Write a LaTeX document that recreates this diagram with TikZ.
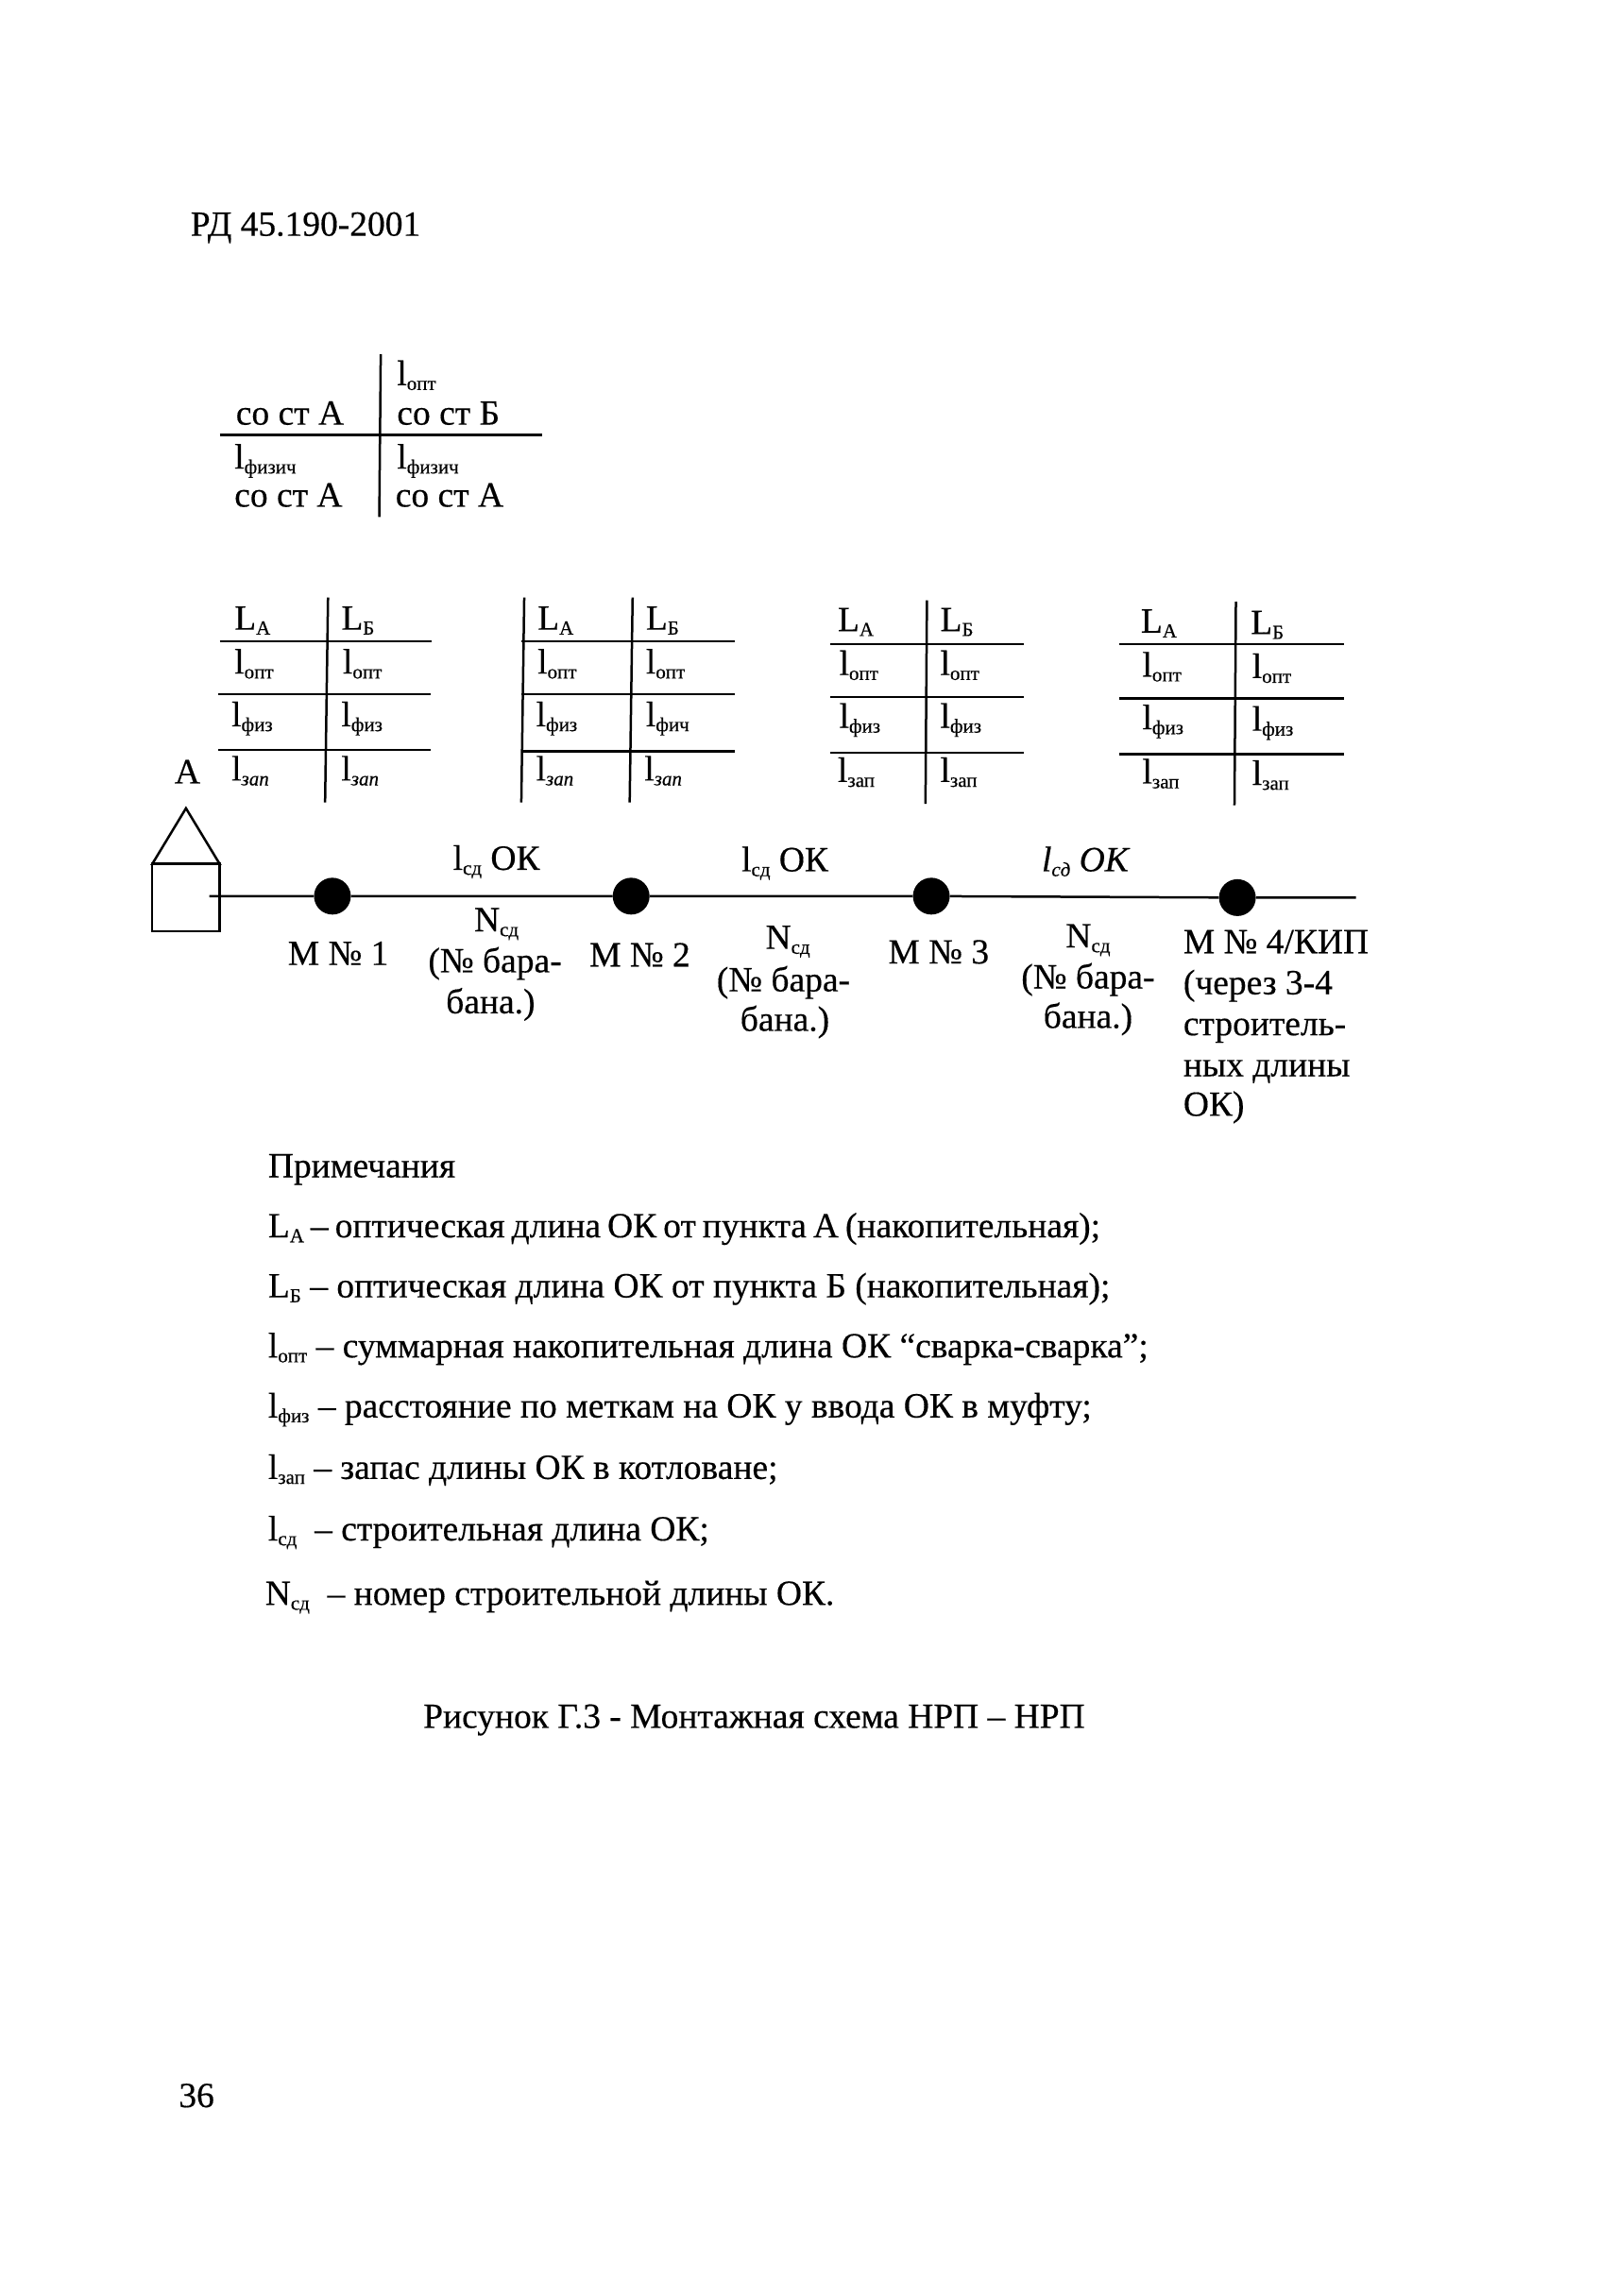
\documentclass[tikz,border=0pt]{standalone}
\usepackage{fontspec}
\setmainfont{Liberation Serif}[FakeBold=0.35]
\newcommand{\subsize}{\fontsize{21}{21}\selectfont}
\newcommand{\lsub}[2]{#1\raisebox{-0.3ex}{\subsize #2}}
\newcommand{\lsubit}[2]{#1\raisebox{-0.3ex}{\subsize\itshape #2}}
\tikzset{
  txt/.style={anchor=base west,inner sep=0pt,font=\fontsize{37.5}{40}\selectfont},
  mid/.style={anchor=base,inner sep=0pt,font=\fontsize{37.5}{40}\selectfont},
  rulethin/.style={line width=2.5pt},
  mdot/.style={circle,fill=black,inner sep=0pt,minimum size=39pt}
}
\begin{document}
\begin{tikzpicture}[x=1.5507pt,y=-1.5507pt]
        \useasboundingbox (0,0) rectangle (1104,1568);
        \node[txt] (head) at (130,161) {РД 45.190-2001};
        % legend table
        \node[txt] (kopt) at (271,263) {\lsub{l}{опт}};
        \node[txt] (ka) at (161,290) {со ст А};
        \node[txt] (kb) at (271,290) {со ст Б};
        \node[txt] (kfa) at (160,320) {\lsub{l}{физич}};
        \node[txt] (kfb) at (271,320) {\lsub{l}{физич}};
        \node[txt] (kc) at (160,346) {со ст А};
        \node[txt] (kd) at (270,346) {со ст А};
        \draw[rulethin] (260,242) -- (259,353);
        \draw[rulethin] (150,297) -- (370,297);
        % table 1
        \node[txt] (a1la) at (160,430) {\lsub{L}{А}};
        \node[txt] (a1lb) at (233,430) {\lsub{L}{Б}};
        \node[txt] (a1oa) at (160,460) {\lsub{l}{опт}};
        \node[txt] (a1ob) at (234,460) {\lsub{l}{опт}};
        \node[txt] (a1fa) at (158,496) {\lsub{l}{физ}};
        \node[txt] (a1fb) at (233,496) {\lsub{l}{физ}};
        \node[txt] (a1za) at (158,533) {\lsubit{l}{зап}};
        \node[txt] (a1zb) at (233,533) {\lsubit{l}{зап}};
        \draw[rulethin] (224,408) -- (222,548);
        \draw[rulethin] (150,438) -- (295,438);
        \draw[rulethin] (149,474) -- (294,474);
        \draw[rulethin] (149,512) -- (294,512);
        % table 2
        \node[txt] (a2la) at (367,430) {\lsub{L}{А}};
        \node[txt] (a2lb) at (441,430) {\lsub{L}{Б}};
        \node[txt] (a2oa) at (367,460) {\lsub{l}{опт}};
        \node[txt] (a2ob) at (441,460) {\lsub{l}{опт}};
        \node[txt] (a2fa) at (366,496) {\lsub{l}{физ}};
        \node[txt] (a2fb) at (441,496) {\lsub{l}{фич}};
        \node[txt] (a2za) at (366,533) {\lsubit{l}{зап}};
        \node[txt] (a2zb) at (440,533) {\lsubit{l}{зап}};
        \draw[rulethin] (358,408) -- (356,548);
        \draw[rulethin] (432,408) -- (430,548);
        \draw[rulethin] (356,438) -- (502,438);
        \draw[rulethin] (356,474) -- (502,474);
        \draw[rulethin] (356,513) -- (502,513);
        % table 3
        \node[txt] (a3la) at (572,431) {\lsub{L}{А}};
        \node[txt] (a3lb) at (642,431) {\lsub{L}{Б}};
        \node[txt] (a3oa) at (573,461) {\lsub{l}{опт}};
        \node[txt] (a3ob) at (642,461) {\lsub{l}{опт}};
        \node[txt] (a3fa) at (573,497) {\lsub{l}{физ}};
        \node[txt] (a3fb) at (642,497) {\lsub{l}{физ}};
        \node[txt] (a3za) at (572,534) {\lsub{l}{зап}};
        \node[txt] (a3zb) at (642,534) {\lsub{l}{зап}};
        \draw[rulethin] (633,410) -- (632,549);
        \draw[rulethin] (567,440) -- (699,440);
        \draw[rulethin] (567,476) -- (699,476);
        \draw[rulethin] (567,514) -- (699,514);
        % table 4
        \node[txt] (a4la) at (779,432) {\lsub{L}{А}};
        \node[txt] (a4lb) at (854,433) {\lsub{L}{Б}};
        \node[txt] (a4oa) at (780,462) {\lsub{l}{опт}};
        \node[txt] (a4ob) at (855,463) {\lsub{l}{опт}};
        \node[txt] (a4fa) at (780,498) {\lsub{l}{физ}};
        \node[txt] (a4fb) at (855,499) {\lsub{l}{физ}};
        \node[txt] (a4za) at (780,535) {\lsub{l}{зап}};
        \node[txt] (a4zb) at (855,536) {\lsub{l}{зап}};
        \draw[rulethin] (844,411) -- (843,550);
        \draw[rulethin] (764,440) -- (918,440);
        \draw[rulethin] (764,477) -- (918,477);
        \draw[rulethin] (764,515) -- (918,515);
        % station A
        \node[mid] (stA) at (128,535) {А};
        \draw[rulethin] (127,552) -- (104,590) -- (150,590) -- cycle;
        \draw[rulethin] (104,590) rectangle (150,636);
        % cable line
        \coordinate (start) at (143,612);
        \coordinate (end) at (926,613);
        \node[mdot] (m1) at (227,612) {};
        \node[mdot] (m2) at (431,612) {};
        \node[mdot] (m3) at (636,612) {};
        \node[mdot] (m4) at (845,613) {};
        \draw[rulethin] (start) -- (m1) -- (m2) -- (m3) -- (m4) -- (end);
        % labels at the line
        \node[mid] (len1) at (339,594) {\lsub{l}{сд} ОК};
        \node[mid] (len2) at (536,595) {\lsub{l}{сд} ОК};
        \node[mid] (len3) at (741,595) {\itshape\lsub{l}{сд} ОК};
        \node[mid] (num1) at (339,636) {\lsub{N}{сд}};
        \node[mid] (drum1) at (338,664) {(№ бара-};
        \node[mid] (ban1) at (335,692) {бана.)};
        \node[mid] (num2) at (538,648) {\lsub{N}{сд}};
        \node[mid] (drum2) at (535,677) {(№ бара-};
        \node[mid] (ban2) at (536,704) {бана.)};
        \node[mid] (num3) at (743,647) {\lsub{N}{сд}};
        \node[mid] (drum3) at (743,675) {(№ бара-};
        \node[mid] (ban3) at (743,702) {бана.)};
        \node[mid] (nm1) at (231,659) {М № 1};
        \node[mid] (nm2) at (437,660) {М № 2};
        \node[mid] (nm3) at (641,658) {М № 3};
        \node[txt] (nm4) at (808,651) {М № 4/КИП};
        \node[txt] (via) at (808,679) {(через 3-4};
        \node[txt] (bld) at (808,707) {строитель-};
        \node[txt] (lng) at (808,735) {ных длины};
        \node[txt] (ok) at (808,762) {ОК)};
        % notes
        \node[txt] (ntitle) at (183,804) {Примечания};
        \node[txt] (n1) at (183,845) {\spaceskip=7pt \lsub{L}{А} -- оптическая длина ОК от пункта А (накопительная);};
        \node[txt] (n2) at (183,886) {\lsub{L}{Б} -- оптическая длина ОК от пункта Б (накопительная);};
        \node[txt] (n3) at (183,927) {\lsub{l}{опт} -- суммарная накопительная длина ОК “сварка-сварка”;};
        \node[txt] (n4) at (183,968) {\lsub{l}{физ} -- расстояние по меткам на ОК у ввода ОК в муфту;};
        \node[txt] (n5) at (183,1010) {\lsub{l}{зап} -- запас длины ОК в котловане;};
        \node[txt] (n6) at (183,1052) {\lsub{l}{сд}\ \ -- строительная длина ОК;};
        \node[txt] (n7) at (181,1096) {\lsub{N}{сд}\ \ -- номер строительной длины ОК.};
        % caption and page number
        \node[mid] (cap) at (515,1180) {Рисунок Г.3 - Монтажная схема НРП -- НРП};
        \node[txt] (page) at (122,1439) {36};
    \end{tikzpicture}
\end{document}
